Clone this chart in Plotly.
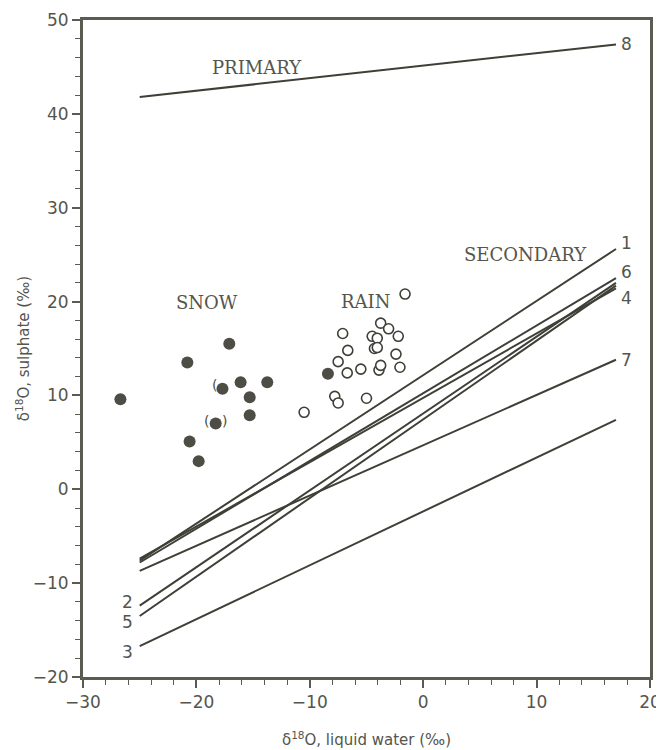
import plotly.graph_objects as go

# ---- data ----
line_ids = ["1", "2", "3", "4", "5", "6", "7", "8"]
line_x_start = [-25, -25, -25, -25, -25, -25, -25, -25]
line_x_end = [17, 17, 17, 17, 17, 17, 17, 17]
line_y_start = [-7.6, -12.4, -16.7, -7.4, -13.5, -7.8, -8.7, 41.8]
line_y_end = [25.6, 22.0, 7.4, 21.4, 21.7, 22.5, 13.8, 47.4]

snow_x = [-26.7, -20.8, -17.1, -16.1, -13.75, -17.7, -15.3, -15.3, -18.3, -20.6, -19.8]
snow_y = [9.6, 13.5, 15.5, 11.4, 11.4, 10.7, 9.8, 7.9, 7.0, 5.1, 3.0]

rain_filled_x = [-8.4]
rain_filled_y = [12.3]

rain_x = [-1.6, -3.75, -3.05, -2.2, -7.1, -4.5, -4.05, -4.3, -4.05, -6.65, -2.4,
          -7.5, -6.7, -5.5, -3.9, -3.75, -2.05, -7.8, -7.5, -5.0, -10.5]
rain_y = [20.8, 17.7, 17.1, 16.3, 16.6, 16.3, 16.1, 15.0, 15.1, 14.8, 14.4,
          13.6, 12.4, 12.8, 12.7, 13.2, 13.0, 9.9, 9.2, 9.7, 8.2]

group_labels = ["PRIMARY", "SECONDARY", "SNOW", "RAIN"]
group_label_x = [-14.7, 9.0, -19.1, -5.05]
group_label_y = [44.9, 25.0, 19.9, 20.0]

x_tick_vals = [-30, -20, -10, 0, 10, 20]
y_tick_vals = [-20, -10, 0, 10, 20, 30, 40, 50]

# ---- styling ----
INK = "#3f3f37"
AXIS = "#5b5b52"
TXT = "#55554d"

fig = go.Figure()

for i, lid in enumerate(line_ids):
    fig.add_trace(go.Scatter(
        x=[line_x_start[i], line_x_end[i]], y=[line_y_start[i], line_y_end[i]],
        mode="lines", line=dict(color=INK, width=2), showlegend=False, hoverinfo="skip"))

fig.add_trace(go.Scatter(x=rain_x, y=rain_y, mode="markers", showlegend=False,
                         marker=dict(size=10, color="white", line=dict(color=INK, width=1.6))))
fig.add_trace(go.Scatter(x=snow_x, y=snow_y, mode="markers", showlegend=False,
                         marker=dict(size=12, color="#4d4d45", line=dict(width=0))))
fig.add_trace(go.Scatter(x=rain_filled_x, y=rain_filled_y, mode="markers", showlegend=False,
                         marker=dict(size=12, color="#4d4d45", line=dict(width=0))))

annotations = []
right_ids = {"1": 6, "6": 6, "4": -10, "7": 0, "8": 0}
left_ids = {"2": 4, "5": -6, "3": -6}
for i, lid in enumerate(line_ids):
    if lid in right_ids:
        annotations.append(dict(x=line_x_end[i], y=line_y_end[i], text=lid, showarrow=False,
                                xanchor="left", xshift=3, yshift=right_ids[lid],
                                font=dict(family="DejaVu Sans", size=17, color=TXT)))
    else:
        annotations.append(dict(x=line_x_start[i], y=line_y_start[i], text=lid, showarrow=False,
                                xanchor="right", xshift=-5, yshift=left_ids[lid],
                                font=dict(family="DejaVu Sans", size=17, color=TXT)))

for t, gx, gy in zip(group_labels, group_label_x, group_label_y):
    annotations.append(dict(x=gx, y=gy, text=t, showarrow=False,
                            font=dict(family="DejaVu Serif", size=18, color=TXT)))

annotations += [
    dict(x=-17.7, y=10.7, text="(", showarrow=False, xshift=-8, yshift=4,
         font=dict(family="DejaVu Sans", size=14, color="#4d4d45")),
    dict(x=-18.3, y=7.0, text="(", showarrow=False, xshift=-9, yshift=3,
         font=dict(family="DejaVu Sans", size=14, color="#4d4d45")),
    dict(x=-18.3, y=7.0, text=")", showarrow=False, xshift=9, yshift=3,
         font=dict(family="DejaVu Sans", size=14, color="#4d4d45")),
]

# the page body adds an 8px offset; size the figure so it fills the 664x750 window
fig.update_layout(
    width=656, height=742,
    margin=dict(l=75, r=14, t=12, b=73),
    paper_bgcolor="white", plot_bgcolor="white",
    annotations=annotations,
    font=dict(family="DejaVu Sans", color=TXT),
)

fig.update_xaxes(
    automargin=False,
    range=[-30, 20], tickvals=x_tick_vals, ticktext=["\u221230", "\u221220", "\u221210", "0", "10", "20"],
    showgrid=False, zeroline=False, showline=True, linewidth=3, linecolor=AXIS, mirror=True,
    ticks="outside", ticklen=8, tickwidth=1.5, tickcolor=AXIS,
    minor=dict(dtick=2, ticks="outside", ticklen=5, tickwidth=1.2, tickcolor=AXIS),
    tickfont=dict(family="DejaVu Sans", size=17, color=TXT),
    title=dict(text="\u03b4<sup>18</sup>O, liquid water (\u2030)",
               font=dict(family="DejaVu Sans", size=15, color=TXT), standoff=24),
)
fig.update_yaxes(
    automargin=False,
    range=[-20, 50], tickvals=y_tick_vals, ticktext=["\u221220", "\u221210", "0", "10", "20", "30", "40", "50"],
    showgrid=False, zeroline=False, showline=True, linewidth=3, linecolor=AXIS, mirror=True,
    ticks="outside", ticklen=8, tickwidth=1.5, tickcolor=AXIS,
    minor=dict(dtick=2, ticks="outside", ticklen=5, tickwidth=1.2, tickcolor=AXIS),
    tickfont=dict(family="DejaVu Sans", size=17, color=TXT),
    title=dict(text="\u03b4<sup>18</sup>O, sulphate (\u2030)",
               font=dict(family="DejaVu Sans", size=15, color=TXT), standoff=0),
)

fig.write_html("out.html")
